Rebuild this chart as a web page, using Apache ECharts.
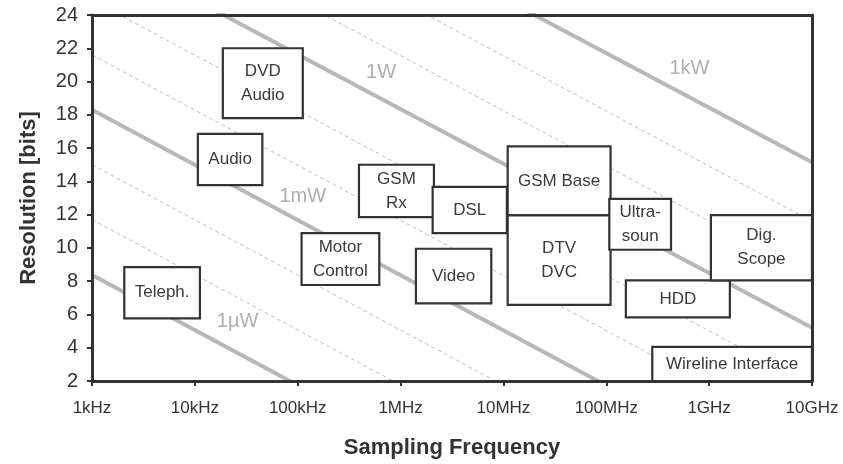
<!DOCTYPE html>
<html>
<head>
<meta charset="utf-8">
<script src="https://cdn.jsdelivr.net/npm/echarts@6/dist/echarts.min.js"></script>
<style>
  html, body { margin: 0; padding: 0; background: #fff; }
  #chart { width: 843px; height: 464px; }
</style>
</head>
<body>
<div id="chart"></div>
<script>
// Axis tick labels (decades of sampling frequency)
const tickLabels = ['1kHz', '10kHz', '100kHz', '1MHz', '10MHz', '100MHz', '1GHz', '10GHz'];

// Constant-power lines: resolution (bits) at 1 kHz and at 10 GHz
const lineFreqEnds = [1e3, 1e10];
const powerNames = ['1µW', '1mW', '1W', '1kW'];
const powerBitsAt1k = [8.37, 18.3, 28.2, 38.1];
const powerBitsAt10G = [-14.8, -4.9, 5.2, 15.15];
// Intermediate decade lines between the labelled power levels
const stepBitsAt1k = [11.7, 15.0, 21.6, 24.9, 31.5, 34.8];
const stepBitsAt10G = [-11.5, -8.2, -1.6, 1.7, 8.3, 11.6];

// Where each power label sits (frequency, bits)
const powerLabelFreq = [2.6e4, 1.12e5, 6.46e5, 6.44e8];
const powerLabelBits = [5.56, 13.09, 20.55, 20.8];

// Application regions: frequency range and resolution range
const apps = ['Teleph.', 'Audio', 'DVD\nAudio', 'Motor\nControl', 'GSM\nRx', 'Video', 'DSL',
  'GSM Base', 'DTV\nDVC', 'Ultra-\nsoun', 'HDD', 'Dig.\nScope', 'Wireline Interface'];
const appFreqMin = [2.06e3, 1.07e4, 1.87e4, 1.09e5, 3.94e5, 1.41e6, 2.05e6, 1.10e7, 1.10e7, 1.07e8, 1.55e8, 1.04e9, 2.80e8];
const appFreqMax = [1.12e4, 4.53e4, 1.12e5, 6.21e5, 2.11e6, 7.62e6, 1.08e7, 1.10e8, 1.10e8, 4.26e8, 1.59e9, 1e10, 1e10];
const appBitsMin = [5.76, 13.77, 17.8, 7.77, 11.85, 6.67, 10.89, 11.95, 6.57, 9.89, 5.82, 8.05, 2];
const appBitsMax = [8.85, 16.85, 22.0, 10.89, 15.0, 9.95, 13.67, 16.1, 11.95, 12.95, 8.05, 11.97, 4.05];

const FONT = "'Liberation Sans', Arial, Helvetica, sans-serif";
const INK = '#333333';

const chart = echarts.init(document.getElementById('chart'), null, { renderer: 'canvas' });

const series = [];

stepBitsAt1k.forEach((b, i) => {
  series.push({
    type: 'line', silent: true, symbol: 'none', z: 1, clip: true,
    lineStyle: { color: '#bdbdbd', width: 1, type: [4, 3] },
    data: [[lineFreqEnds[0], b], [lineFreqEnds[1], stepBitsAt10G[i]]]
  });
});

powerNames.forEach((n, i) => {
  series.push({
    type: 'line', name: n, silent: true, symbol: 'none', z: 2, clip: true,
    lineStyle: { color: '#b8b8b8', width: 4 },
    data: [[lineFreqEnds[0], powerBitsAt1k[i]], [lineFreqEnds[1], powerBitsAt10G[i]]]
  });
});

series.push({
  type: 'custom', z: 5, silent: true,
  data: apps.map((a, i) => [appFreqMin[i], appFreqMax[i], appBitsMin[i], appBitsMax[i], i]),
  renderItem: function (params, api) {
    const p0 = api.coord([api.value(0), api.value(3)]);
    const p1 = api.coord([api.value(1), api.value(2)]);
    const label = apps[api.value(4)];
    return {
      type: 'group',
      children: [
        {
          type: 'rect',
          shape: { x: p0[0], y: p0[1], width: p1[0] - p0[0], height: p1[1] - p0[1] },
          style: { fill: '#ffffff', stroke: INK, lineWidth: 2.2 }
        },
        {
          type: 'text',
          style: {
            text: label,
            x: (p0[0] + p1[0]) / 2, y: (p0[1] + p1[1]) / 2,
            align: 'center', verticalAlign: 'middle',
            textAlign: 'center', textVerticalAlign: 'middle',
            font: '17px ' + FONT, fill: '#3a3a3a', lineHeight: 24
          }
        }
      ]
    };
  }
});

series.push({
  type: 'scatter', z: 6, silent: true, symbolSize: 0,
  data: powerNames.map((n, i) => ({ value: [powerLabelFreq[i], powerLabelBits[i]], name: n })),
  label: {
    show: true, position: 'inside', formatter: '{b}',
    color: '#9a9a9a', fontSize: 20, fontFamily: FONT
  }
});

const axisCommon = {
  z: 10,
  axisLine: { show: true, lineStyle: { color: INK, width: 3 } },
  splitLine: { show: false },
  nameTextStyle: { color: INK, fontFamily: FONT, fontWeight: 'bold', fontSize: 22 }
};

chart.setOption({
  animation: false,
  backgroundColor: '#ffffff',
  grid: { left: 92, right: 31, top: 15, bottom: 82, containLabel: false },
  xAxis: [
    Object.assign({}, axisCommon, {
      type: 'log', logBase: 10, min: 1e3, max: 1e10,
      position: 'bottom',
      name: 'Sampling Frequency', nameLocation: 'middle', nameGap: 56,
      axisTick: { show: true, length: 5, lineStyle: { color: INK, width: 2 } },
      minorTick: { show: false },
      axisLabel: {
        margin: 19, color: INK, fontSize: 17, fontFamily: FONT,
        formatter: v => tickLabels[Math.round(Math.log10(v)) - 3]
      }
    }),
    Object.assign({}, axisCommon, {
      type: 'log', logBase: 10, min: 1e3, max: 1e10, position: 'top',
      axisTick: { show: false }, axisLabel: { show: false }
    })
  ],
  yAxis: [
    Object.assign({}, axisCommon, {
      type: 'value', min: 2, max: 24, interval: 2,
      position: 'left',
      name: 'Resolution [bits]', nameLocation: 'middle', nameGap: 52, nameRotate: 90,
      axisTick: { show: true, length: 5, lineStyle: { color: INK, width: 2 } },
      axisLabel: { margin: 14, color: INK, fontSize: 20, fontFamily: FONT }
    }),
    Object.assign({}, axisCommon, {
      type: 'value', min: 2, max: 24, interval: 2, position: 'right',
      axisTick: { show: false }, axisLabel: { show: false }
    })
  ],
  series: series
});
</script>
</body>
</html>
